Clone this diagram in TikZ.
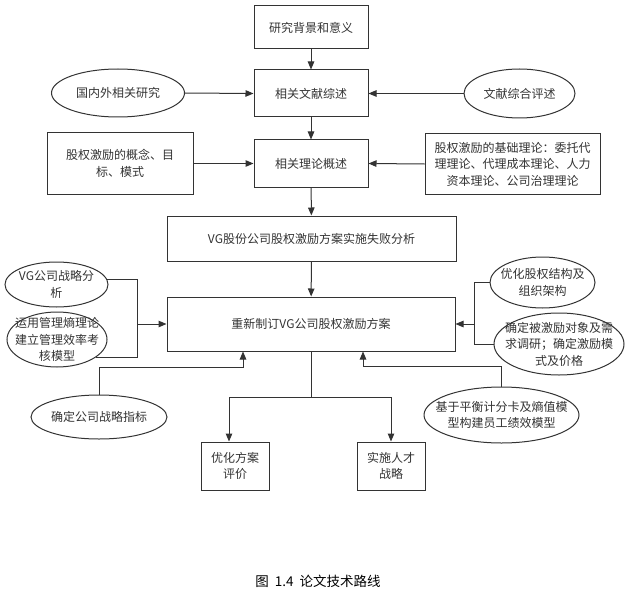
\documentclass[tikz,border=0pt]{standalone}
\usepackage{fontspec}
\setmainfont{Noto Sans CJK SC}
\usetikzlibrary{shapes.geometric,arrows.meta}
\definecolor{ink}{HTML}{333333}
\begin{document}
\begin{tikzpicture}[x=1pt,y=-1pt,
        box/.style={draw=ink, line width=1pt, text=ink, align=center, inner sep=0pt, font=\fontsize{12}{16.5}\selectfont},
        oval/.style={ellipse, draw=ink, line width=1pt, inner sep=0pt},
        txt/.style={text=ink, align=center, inner sep=0pt, font=\fontsize{12}{16.5}\selectfont},
        ln/.style={draw=ink, line width=1pt},
        arr/.style={ln, -{Triangle[length=8pt,width=6.5pt]}}]
        \useasboundingbox (0,0) rectangle (628,596);

        % main column
        \node[box, minimum width=114pt, minimum height=43pt] (bg) at (311,27.5) {研究背景和意义};
        \node[box, minimum width=114pt, minimum height=47pt] (lit) at (311,93.5) {相关文献综述};
        \node[box, minimum width=114pt, minimum height=47pt] (theo) at (311,163.5) {相关理论概述};
        \node[box, minimum width=289pt, minimum height=45pt] (fail) at (311.5,238.5) {VG股份公司股权激励方案实施失败分析};
        \node[box, minimum width=288pt, minimum height=54pt] (plan) at (311,324) {重新制订VG公司股权激励方案};
        \node[box, minimum width=68pt, minimum height=48pt] (eval) at (235,466) {优化方案\\评价};
        \node[box, minimum width=68pt, minimum height=48pt] (talent) at (391,466) {实施人才\\战略};

        % side inputs
        \node[oval, minimum width=133pt, minimum height=48pt, label={[txt]center:国内外相关研究}] (domestic) at (118,93) {};
        \node[oval, minimum width=111pt, minimum height=49pt, label={[txt]center:文献综合评述}] (review) at (519.5,93.5) {};
        \node[box, minimum width=146pt, minimum height=61pt] (concept) at (120,163.5) {股权激励的概念、目\\标、模式};
        \node[box, minimum width=175pt, minimum height=60pt] (base) at (512.5,164) {股权激励的基础理论：委托代\\理理论、代理成本理论、人力\\资本理论、公司治理理论};

        \node[oval, minimum width=103pt, minimum height=45pt, label={[txt]center:{VG公司战略分\\析}}] (strat) at (56.5,284.5) {};
        \node[oval, minimum width=100pt, minimum height=55pt, label={[txt]center:{运用管理熵理论\\建立管理效率考\\核模型}}] (entropy) at (57,339.5) {};
        \node[oval, minimum width=136pt, minimum height=44pt, label={[txt]center:确定公司战略指标}] (index) at (99,417) {};
        \node[oval, minimum width=105pt, minimum height=51pt, label={[txt]center:{优化股权结构及\\组织架构}}] (struct) at (542.5,282.5) {};
        \node[oval, minimum width=130pt, minimum height=62pt, label={[txt]center:{确定被激励对象及需\\求调研；确定激励模\\式及价格}}] (target) at (559,344) {};
        \node[oval, minimum width=155pt, minimum height=56pt, label={[txt]center:{基于平衡计分卡及熵值模\\型构建员工绩效模型}}] (bsc) at (501.5,415) {};

        \coordinate (lj) at (137,324);
        \coordinate (rj) at (474,324);
        \coordinate (bj) at (311,397);

        \draw[arr] (bg) -- (lit);
        \draw[arr] (lit) -- (theo);
        \draw[arr] (theo) -- (fail);
        \draw[arr] (fail) -- (plan);
        \draw[arr] (domestic.east) -- (lit.west);
        \draw[arr] (review.west) -- (lit.east);
        \draw[arr] (concept.east) -- (theo.west);
        \draw[arr] (base.west) -- (theo.east);

        \draw[ln] (strat.6) -| (lj);
        \draw[ln] (entropy.-24) -| (lj);
        \draw[arr] (lj) -- (plan.west);
        \draw[ln] (struct.west) -| (rj);
        \draw[ln] (target.west) -| (rj);
        \draw[arr] (rj) -- (plan.east);
        \draw[arr] (index.north) -- ++(0,-27) -| ([xshift=-68pt]plan.south);
        \draw[arr] (bsc.north) -- ++(0,-20) -| ([xshift=52pt]plan.south);

        \draw[ln] (plan.south) -- (bj);
        \draw[arr] (bj) -| ([xshift=-6pt]eval.north);
        \draw[arr] (bj) -| (talent.north);

        \node[font=\fontsize{13.5}{16}\selectfont] (cap) at (318,581) {图\hspace{6pt}1.4\hspace{6pt}论文技术路线};
    \end{tikzpicture}
\end{document}
